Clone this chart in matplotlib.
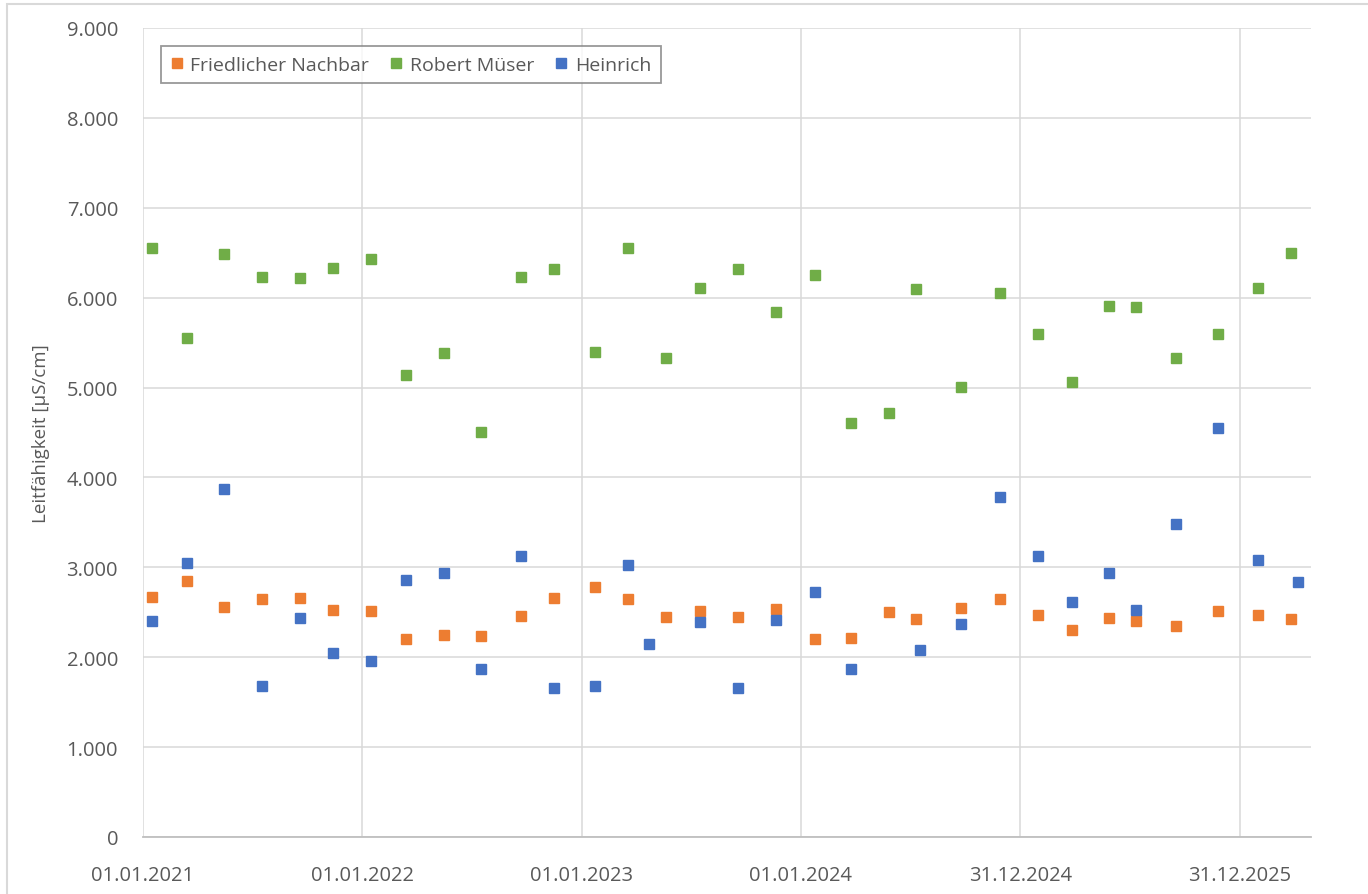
import matplotlib
matplotlib.use("Agg")
import matplotlib.pyplot as plt
import matplotlib.dates as mdates
from matplotlib.ticker import FuncFormatter, MultipleLocator
import pandas as pd

plt.rcParams["font.family"] = ["Open Sans", "DejaVu Sans"]

# sampling dates shared by Friedlicher Nachbar and Robert Müser
dates = [
    "2021-01-16", "2021-03-15", "2021-05-16", "2021-07-18", "2021-09-20", "2021-11-14",
    "2022-01-16", "2022-03-14", "2022-05-17", "2022-07-18", "2022-09-22", "2022-11-16",
    "2023-01-23", "2023-03-20", "2023-05-22", "2023-07-17", "2023-09-19", "2023-11-21",
    "2024-01-24", "2024-03-25", "2024-05-27", "2024-07-11", "2024-09-24", "2024-11-27",
    "2025-01-29", "2025-03-27", "2025-05-27", "2025-07-12", "2025-09-17", "2025-11-26",
    "2026-01-31", "2026-03-26",
]
friedlicher_nachbar = [
    2670, 2852, 2559, 2651, 2659, 2529,
    2511, 2206, 2247, 2236, 2459, 2662,
    2781, 2651, 2447, 2511, 2447, 2536,
    2206, 2217, 2500, 2428, 2548, 2651,
    2470, 2306, 2440, 2406, 2350, 2511,
    2470, 2421,
]
robert_mueser = [
    6556, 5548, 6486, 6233, 6215, 6334,
    6433, 5140, 5381, 4502, 6233, 6315,
    5399, 6556, 5329, 6113, 6315, 5844,
    6256, 4606, 4717, 6093, 5006, 6052,
    5592, 5058, 5902, 5891, 5329, 5599,
    6102, 6497,
]

dates_heinrich = [
    "2021-01-16", "2021-03-15", "2021-05-16", "2021-07-18", "2021-09-20", "2021-11-14",
    "2022-01-16", "2022-03-14", "2022-05-17", "2022-07-18", "2022-09-22", "2022-11-16",
    "2023-01-23", "2023-03-20", "2023-04-23", "2023-07-17", "2023-09-19", "2023-11-21",
    "2024-01-24", "2024-03-25", "2024-07-18", "2024-09-24", "2024-11-27",
    "2025-01-29", "2025-03-27", "2025-05-27", "2025-07-12", "2025-09-17", "2025-11-26",
    "2026-01-31", "2026-04-08",
]
heinrich = [
    2407, 3045, 3868, 1683, 2440, 2047,
    1955, 2864, 2940, 1864, 3126, 1658,
    1676, 3022, 2147, 2388, 1654, 2418,
    2729, 1872, 2077, 2370, 3779,
    3122, 2610, 2940, 2525, 3486, 4546,
    3084, 2842,
]

series = [
    ("Friedlicher Nachbar", dates, friedlicher_nachbar, "#ED7D31"),
    ("Robert Müser", dates, robert_mueser, "#70AD47"),
    ("Heinrich", dates_heinrich, heinrich, "#4472C4"),
]

text_color = "#595959"
grid_color = "#d9d9d9"

fig = plt.figure(figsize=(13.68, 8.95), dpi=100)
# light chart-area border like the spreadsheet export
fig.patches.append(plt.Rectangle((7 / 1368, -0.1), 1.2, 1.1 - 5 / 895, transform=fig.transFigure,
                                 fill=False, edgecolor=grid_color, linewidth=1.5))
ax = fig.add_axes([143 / 1368, 1 - 838 / 895, (1311 - 143) / 1368, (838 - 29) / 895])

for name, d, values, color in series:
    ax.plot(pd.to_datetime(d), values, linestyle="none", marker="s", markersize=7.3,
            color=color, label=name, zorder=3)

start = pd.Timestamp("2021-01-01")
ax.set_xlim(start, pd.Timestamp("2026-04-29"))
ax.set_ylim(0, 9000)

xticks = [start + pd.Timedelta(days=365 * k) for k in range(6)]
ax.set_xticks(xticks)
ax.xaxis.set_major_formatter(mdates.DateFormatter("%d.%m.%Y"))
ax.yaxis.set_major_locator(MultipleLocator(1000))
ax.yaxis.set_major_formatter(FuncFormatter(lambda v, _: f"{int(v):,}".replace(",", ".")))

ax.grid(True, color=grid_color, linewidth=1.1, zorder=0)
ax.set_axisbelow(True)
for side in ["top", "right", "left"]:
    ax.spines[side].set_visible(False)
ax.spines["bottom"].set_color("#bfbfbf")
ax.spines["bottom"].set_linewidth(1.3)
ax.tick_params(axis="both", length=0, labelsize=14.5, colors=text_color)
ax.tick_params(axis="y", pad=18)
ax.tick_params(axis="x", pad=20)

ax.set_ylabel("Leitfähigkeit [µS/cm]", fontsize=13.5, color=text_color, labelpad=12)

leg = ax.legend(loc="upper left", bbox_to_anchor=(0.0154, 0.978), borderaxespad=0, ncol=3,
                fontsize=14, frameon=True, fancybox=False, handlelength=0.6, handletextpad=0.4,
                columnspacing=1.1, borderpad=0.5, markerscale=0.9)
leg.get_frame().set_edgecolor("#7f7f7f")
leg.get_frame().set_linewidth(1.3)
for t in leg.get_texts():
    t.set_color(text_color)

fig.savefig("out.png", dpi=100)
plt.close(fig)
